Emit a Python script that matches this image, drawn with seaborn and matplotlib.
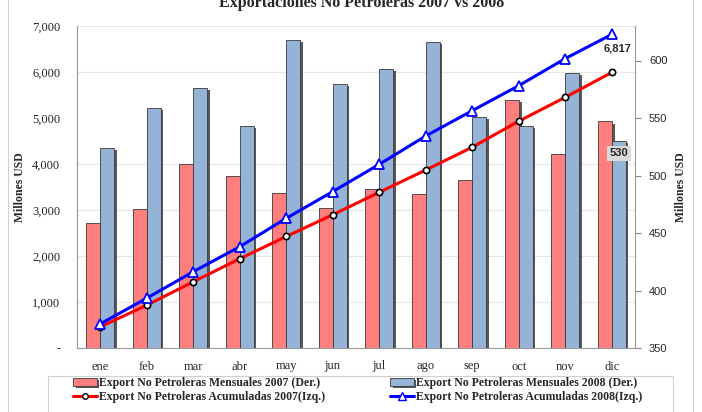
import numpy as np
import pandas as pd
import seaborn as sns
import matplotlib.pyplot as plt
import matplotlib.patheffects as pe
from matplotlib.patches import Rectangle
from matplotlib.lines import Line2D

# --- datos ---
meses = ['ene', 'feb', 'mar', 'abr', 'may', 'jun', 'jul', 'ago', 'sep', 'oct', 'nov', 'dic']
mensual_2007 = [459, 471, 510, 500, 485, 472, 488, 484, 496, 566, 519, 547]
mensual_2008 = [524, 559, 576, 543, 618, 580, 593, 616, 551, 543, 589, 530]
acum_2007 = [459, 930, 1440, 1940, 2425, 2897, 3385, 3869, 4365, 4931, 5450, 5990]
acum_2008 = [524, 1083, 1659, 2202, 2820, 3400, 3993, 4609, 5160, 5703, 6292, 6817]
ticks_izq = [0, 1000, 2000, 3000, 4000, 5000, 6000, 7000]
ticks_izq_txt = ['-', '1,000', '2,000', '3,000', '4,000', '5,000', '6,000', '7,000']
ticks_der = [350, 400, 450, 500, 550, 600]

lbl_bar07 = 'Export No Petroleras Mensuales 2007 (Der.)'
lbl_bar08 = 'Export No Petroleras Mensuales 2008 (Der.)'
lbl_lin07 = 'Export No Petroleras Acumuladas 2007(Izq.)'
lbl_lin08 = 'Export No Petroleras Acumuladas 2008(Izq.)'

df = pd.DataFrame({
    'mes': meses * 2,
    'serie': ['2007'] * 12 + ['2008'] * 12,
    'valor': mensual_2007 + mensual_2008,
})

sns.set_style('white')
plt.rcParams['font.family'] = ['Liberation Serif', 'DejaVu Serif']

W, H = 702, 412
fig = plt.figure(figsize=(W / 100, H / 100), dpi=100)
ax = fig.add_axes([77 / W, 1 - 348 / H, (635 - 77) / W, (348 - 26) / H])

# barras mensuales (eje derecho)
sns.barplot(data=df, x='mes', y='valor', hue='serie', palette=['#FF7F7F', '#95B3D7'],
            width=0.6, saturation=1, edgecolor='#3a3a3a', linewidth=0.6,
            legend=False, ax=ax)
for p in ax.patches:
    p.set_path_effects([pe.SimplePatchShadow(offset=(2, -1.5), shadow_rgbFace='#202020', alpha=0.75),
                        pe.Normal()])
ax.set_ylim(350, 630)
ax.set_xlim(-0.5, 11.5)

# lineas acumuladas (eje izquierdo)
ax2 = ax.twinx()

ax.yaxis.tick_right()
ax.set_yticks(ticks_der)
ax.set_yticklabels([str(t) for t in ticks_der], family=['Liberation Sans', 'DejaVu Sans'], fontsize=8)
ax.set_yticks(np.linspace(350, 630, 8), minor=True)
ax.grid(which='minor', axis='y', color='#e6e6e6', lw=0.8)
ax.tick_params(axis='y', which='major', length=4, color='#888888', pad=6)
ax.tick_params(axis='y', which='minor', length=0)
ax.tick_params(axis='x', length=0, pad=9, labelsize=9)
ax.set_xlabel('')
ax.set_ylabel('')
for s in ax.spines.values():
    s.set_color('#999999')
    s.set_linewidth(0.8)
ax.spines['top'].set_visible(False)

x = np.arange(len(meses))
sns.lineplot(x=x, y=acum_2007, ax=ax2, color='#FF0000', lw=2.2, marker='o', markersize=4.5,
             markerfacecolor='white', markeredgecolor='black', markeredgewidth=1.2)
sns.lineplot(x=x, y=acum_2008, ax=ax2, color='#0000FF', lw=2.2, marker='^', markersize=6.5,
             markerfacecolor='white', markeredgecolor='#0000FF', markeredgewidth=1.3)
ax2.set_ylim(0, 7000)
ax2.yaxis.tick_left()
ax2.set_yticks(ticks_izq)
ax2.set_yticklabels(ticks_izq_txt, fontsize=9)
ax2.tick_params(axis='y', length=0, pad=12)
for s in ax2.spines.values():
    s.set_visible(False)

ax2.annotate('6,817', xy=(11, acum_2008[-1]), xytext=(4, -10), textcoords='offset points',
             ha='center', va='center', fontsize=8, fontweight='bold',
             family=['Liberation Sans', 'DejaVu Sans'])
ax.annotate('530', xy=(11.15, mensual_2008[-1]), xytext=(0, -9), textcoords='offset points',
            ha='center', va='center', fontsize=8, fontweight='bold',
            family=['Liberation Sans', 'DejaVu Sans'],
            bbox=dict(boxstyle='square,pad=0.25', fc='#D9D9D9', ec='none'), zorder=10)

# titulo y etiquetas
fig.text(362 / W, 1 - 3 / H, 'Exportaciones No Petroleras 2007 vs 2008', ha='center', va='center',
         fontsize=11.5, fontweight='bold')
fig.text(20 / W, 1 - 187 / H, 'Millones USD', rotation=90, ha='center', va='center',
         fontsize=8.5, fontweight='bold')
fig.text(681 / W, 1 - 187 / H, 'Millones USD', rotation=90, ha='center', va='center',
         fontsize=8.5, fontweight='bold')

# leyenda
h_bar07 = ax.containers[0]
h_bar08 = ax.containers[1]
h_lin07 = Line2D([], [], color='#FF0000', lw=2.2, marker='o', markersize=4,
                 markerfacecolor='white', markeredgecolor='black')
h_lin08 = Line2D([], [], color='#0000FF', lw=2.2, marker='^', markersize=5.5,
                 markerfacecolor='white', markeredgecolor='#0000FF')
fig.legend([h_bar07, h_lin07, h_bar08, h_lin08], [lbl_bar07, lbl_lin07, lbl_bar08, lbl_lin08],
           ncol=2, loc='upper left', bbox_to_anchor=(73 / W, 1 - 377 / H), frameon=False,
           prop={'weight': 'bold', 'size': 8.5}, handlelength=2.0, handletextpad=0.2,
           columnspacing=5.5, labelspacing=0.2, borderpad=0, borderaxespad=0)

fig.patches.append(Rectangle((48 / W, -0.02), (673 - 48) / W, (412 - 376) / H + 0.02,
                             transform=fig.transFigure, fill=False, edgecolor='#d0d0d0', lw=0.8))
fig.patches.append(Rectangle((8 / W, -0.02), (693 - 8) / W, 1.1,
                             transform=fig.transFigure, fill=False, edgecolor='#d0d0d0', lw=0.8))

fig.savefig('out.png', dpi=100)
